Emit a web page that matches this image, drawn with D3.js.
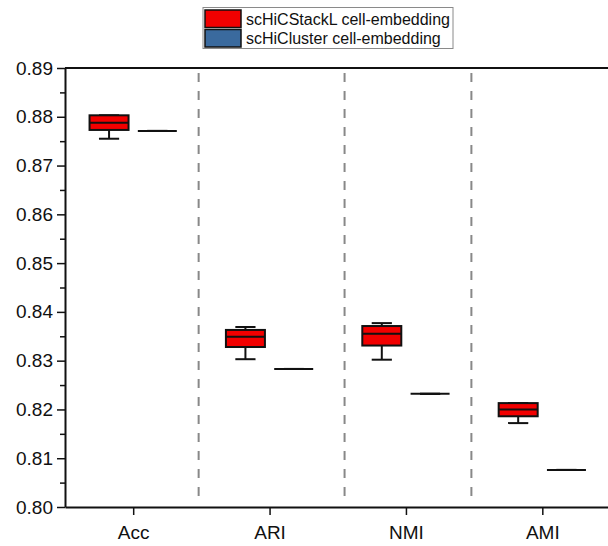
<!DOCTYPE html>
<html>
<head>
<meta charset="utf-8">
<script src="https://cdn.jsdelivr.net/npm/d3@7"></script>
<style>
  body { margin: 0; background: #fff; }
  svg { display: block; font-family: Arial, "Liberation Sans", sans-serif; }
</style>
</head>
<body>
<div class="chart"></div>
<script>
// categories on the x axis
const categories = ["Acc", "ARI", "NMI", "AMI"];
const seriesNames = ["scHiCStackL cell-embedding", "scHiCluster cell-embedding"];

// scHiCStackL box stats: [lower whisker, q1, median, q3, upper whisker]
const stackLStats = [
  [0.8755, 0.8773, 0.8788, 0.8803, 0.8803],
  [0.8303, 0.8328, 0.8349, 0.8363, 0.8369],
  [0.8302, 0.8331, 0.8355, 0.8371, 0.8377],
  [0.8172, 0.8186, 0.8200, 0.8213, 0.8213]
];
// scHiCluster single values (box collapses to a line)
const clusterValues = [0.8771, 0.8283, 0.8232, 0.8076];

// y ticks
const yMajorTicks = [0.80, 0.81, 0.82, 0.83, 0.84, 0.85, 0.86, 0.87, 0.88, 0.89];
const yMinorTicks = [0.805, 0.815, 0.825, 0.835, 0.845, 0.855, 0.865, 0.875, 0.885];
// dashed separators between groups (in category units)
const separators = [1.48, 2.55, 3.48];

const width = 608, height = 546;
const config = {
  redFill: "#f20000",
  blueFill: "#3a6a9e",
  boxStroke: "#111",
  sepColor: "#888",
  fontSize: 19,
  legendFontSize: 16
};

const svg = d3.select(".chart").append("svg")
  .attr("width", width)
  .attr("height", height);

const x = d3.scaleLinear().domain([0.5, 4.5]).range([65, 610.5]);
const y = d3.scaleLinear().domain([0.80, 0.89]).range([507, 68]);

// dashed separators
svg.append("g")
  .selectAll("line")
  .data(separators)
  .enter().append("line")
  .attr("x1", d => x(d)).attr("x2", d => x(d))
  .attr("y1", y(0.89) + 5).attr("y2", y(0.80) - 4)
  .attr("stroke", config.sepColor)
  .attr("stroke-width", 2)
  .attr("stroke-dasharray", "9,9");

// top frame line
svg.append("line")
  .attr("x1", x(0.5)).attr("x2", x(4.5))
  .attr("y1", y(0.89)).attr("y2", y(0.89))
  .attr("stroke", "#111").attr("stroke-width", 2);

// y axis: minor ticks first, then the major ones
svg.append("g")
  .attr("transform", `translate(${x(0.5)},0)`)
  .call(d3.axisLeft(y).tickValues(yMinorTicks).tickSize(5).tickFormat("").tickSizeOuter(0))
  .call(g => g.select(".domain").remove())
  .call(g => g.selectAll("line").attr("stroke", "#111").attr("stroke-width", 1.5));

svg.append("g")
  .attr("transform", `translate(${x(0.5)},0)`)
  .call(d3.axisLeft(y).tickValues(yMajorTicks).tickSize(8).tickPadding(4)
    .tickFormat(d3.format(".2f")).tickSizeOuter(0))
  .call(g => g.select(".domain").attr("stroke", "#111").attr("stroke-width", 2))
  .call(g => g.selectAll("line").attr("stroke", "#111").attr("stroke-width", 1.5))
  .call(g => g.selectAll("text").attr("font-size", config.fontSize + "px").attr("fill", "#111")
    .attr("font-family", "Arial, 'Liberation Sans', sans-serif"));

// x axis
svg.append("g")
  .attr("transform", `translate(0,${y(0.80)})`)
  .call(d3.axisBottom(x).tickValues([1, 2, 3, 4]).tickSize(8).tickPadding(11)
    .tickFormat(d => categories[d - 1]).tickSizeOuter(0))
  .call(g => g.select(".domain").attr("stroke", "#111").attr("stroke-width", 2))
  .call(g => g.selectAll("line").attr("stroke", "#111").attr("stroke-width", 1.5))
  .call(g => g.selectAll("text").attr("font-size", config.fontSize + "px").attr("fill", "#111")
    .attr("font-family", "Arial, 'Liberation Sans', sans-serif"));

// boxes
const boxHalf = 0.143;   // half box width, category units
const capHalf = 0.074;   // half whisker cap width
const offset = 0.177;    // shift of each series from category centre

function drawBoxes(stats, dx, fill) {
  const g = svg.append("g");
  const box = g.selectAll("g").data(stats).enter().append("g");
  const cx = (d, i) => i + 1 + dx;

  // whisker stems
  box.append("line")
    .attr("x1", (d, i) => x(cx(d, i))).attr("x2", (d, i) => x(cx(d, i)))
    .attr("y1", d => y(d[0])).attr("y2", d => y(d[4]))
    .attr("stroke", config.boxStroke).attr("stroke-width", 2);
  // caps
  [0, 4].forEach(k => {
    box.append("line")
      .attr("x1", (d, i) => x(cx(d, i) - capHalf)).attr("x2", (d, i) => x(cx(d, i) + capHalf))
      .attr("y1", d => y(d[k])).attr("y2", d => y(d[k]))
      .attr("stroke", config.boxStroke).attr("stroke-width", 2);
  });
  // box
  box.append("rect")
    .attr("x", (d, i) => x(cx(d, i) - boxHalf))
    .attr("width", (d, i) => x(cx(d, i) + boxHalf) - x(cx(d, i) - boxHalf))
    .attr("y", d => y(d[3]))
    .attr("height", d => y(d[1]) - y(d[3]))
    .attr("fill", fill)
    .attr("stroke", config.boxStroke).attr("stroke-width", 2);
  // median
  box.append("line")
    .attr("x1", (d, i) => x(cx(d, i) - boxHalf)).attr("x2", (d, i) => x(cx(d, i) + boxHalf))
    .attr("y1", d => y(d[2])).attr("y2", d => y(d[2]))
    .attr("stroke", config.boxStroke).attr("stroke-width", 2);
}

drawBoxes(stackLStats, -offset, config.redFill);
drawBoxes(clusterValues.map(v => [v, v, v, v, v]), offset, config.blueFill);

// legend
const legend = svg.append("g");
legend.append("rect")
  .attr("x", 203).attr("y", 7.5).attr("width", 250).attr("height", 41)
  .attr("fill", "#fff").attr("stroke", "#8a8a8a").attr("stroke-width", 1);

const legendItem = legend.selectAll(".item")
  .data(seriesNames)
  .enter().append("g")
  .attr("class", "item")
  .attr("transform", (d, i) => `translate(205,${10 + i * 19.5})`);

legendItem.append("rect")
  .attr("width", 36).attr("height", 17.5)
  .attr("fill", (d, i) => i === 0 ? config.redFill : config.blueFill)
  .attr("stroke", "#111").attr("stroke-width", 1.5);

legendItem.append("text")
  .attr("x", 41).attr("y", 9).attr("dy", "0.35em")
  .attr("font-size", config.legendFontSize + "px")
  .attr("fill", "#111")
  .text(d => d);
</script>
</body>
</html>
